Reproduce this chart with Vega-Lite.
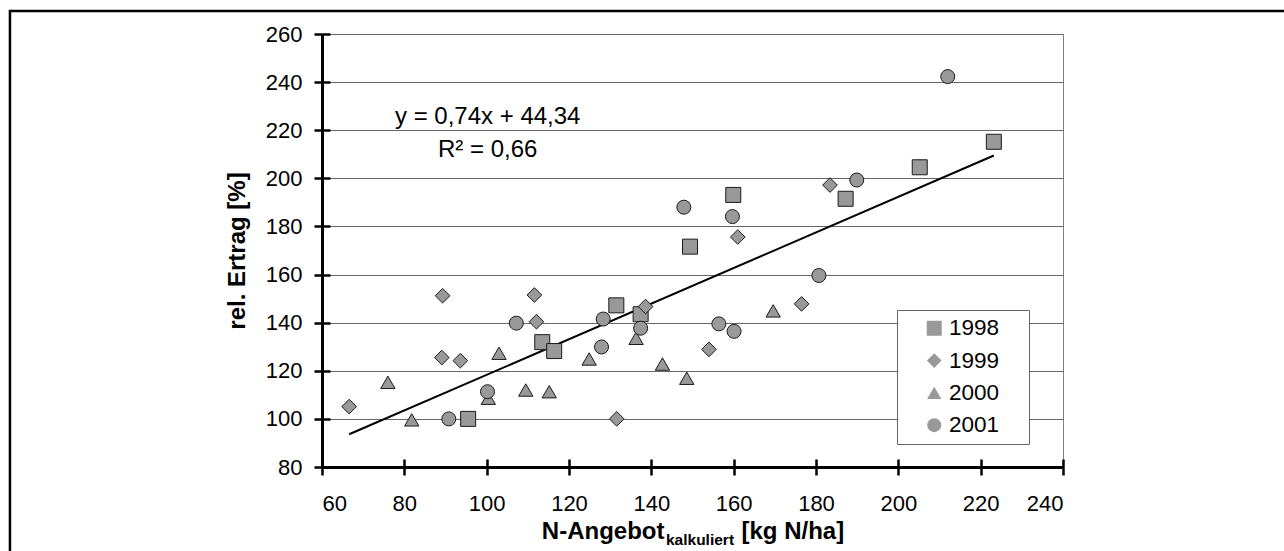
{
  "$schema": "https://vega.github.io/schema/vega-lite/v6.json",
  "width": 741,
  "height": 433,
  "autosize": "none",
  "padding": {"left": 322, "top": 34, "right": 221, "bottom": 84},
  "background": "white",
  "config": {
    "font": "Liberation Sans",
    "view": {"stroke": "#808080", "strokeWidth": 1},
    "axis": {"labelFont": "Liberation Sans", "titleFont": "Liberation Sans", "labelColor": "black", "titleColor": "black"}
  },
  "datasets": {
    "pts": [
      {"year": "1998", "x": 95.5, "y": 100},
      {"year": "1998", "x": 113.5, "y": 131.9},
      {"year": "1998", "x": 116.4, "y": 128.2},
      {"year": "1998", "x": 131.5, "y": 147.2},
      {"year": "1998", "x": 137.4, "y": 143.5},
      {"year": "1998", "x": 149.4, "y": 171.6},
      {"year": "1998", "x": 159.9, "y": 193.1},
      {"year": "1998", "x": 187.2, "y": 191.5},
      {"year": "1998", "x": 205.2, "y": 204.6},
      {"year": "1998", "x": 223.2, "y": 215.2},
      {"year": "1999", "x": 66.6, "y": 105.1},
      {"year": "1999", "x": 89.3, "y": 151.2},
      {"year": "1999", "x": 89.1, "y": 125.5},
      {"year": "1999", "x": 93.6, "y": 124.2},
      {"year": "1999", "x": 111.6, "y": 151.5},
      {"year": "1999", "x": 112.1, "y": 140.4},
      {"year": "1999", "x": 131.6, "y": 100},
      {"year": "1999", "x": 138.6, "y": 146.7},
      {"year": "1999", "x": 154.0, "y": 128.9},
      {"year": "1999", "x": 161.0, "y": 175.6},
      {"year": "1999", "x": 176.5, "y": 147.8},
      {"year": "1999", "x": 183.4, "y": 197.2},
      {"year": "2000", "x": 76.0, "y": 115.2},
      {"year": "2000", "x": 81.8, "y": 99.6},
      {"year": "2000", "x": 100.4, "y": 108.6},
      {"year": "2000", "x": 103.0, "y": 127.3},
      {"year": "2000", "x": 109.5, "y": 112.0},
      {"year": "2000", "x": 115.2, "y": 111.3},
      {"year": "2000", "x": 124.9, "y": 124.9},
      {"year": "2000", "x": 136.3, "y": 133.5},
      {"year": "2000", "x": 142.7, "y": 122.8},
      {"year": "2000", "x": 148.6, "y": 116.9},
      {"year": "2000", "x": 169.6, "y": 144.9},
      {"year": "2001", "x": 90.8, "y": 100},
      {"year": "2001", "x": 100.2, "y": 111.3},
      {"year": "2001", "x": 107.2, "y": 139.8},
      {"year": "2001", "x": 127.9, "y": 129.9},
      {"year": "2001", "x": 128.3, "y": 141.5},
      {"year": "2001", "x": 137.4, "y": 137.7},
      {"year": "2001", "x": 147.9, "y": 188.0},
      {"year": "2001", "x": 156.4, "y": 139.5},
      {"year": "2001", "x": 159.7, "y": 184.1},
      {"year": "2001", "x": 160.1, "y": 136.4},
      {"year": "2001", "x": 180.7, "y": 159.6},
      {"year": "2001", "x": 189.9, "y": 199.3},
      {"year": "2001", "x": 212.0, "y": 242.3}
    ],
    "trend": [
      {"x": 66.6, "y": 93.6},
      {"x": 223.2, "y": 209.5}
    ],
    "one": [{}]
  },
  "resolve": {"axis": {"x": "independent", "y": "independent"}},
  "layer": [
    {
      "data": {"name": "one"},
      "mark": {"type": "rect", "fill": null, "filled": false, "stroke": "black", "strokeWidth": 2.5, "clip": false},
      "encoding": {
        "x": {"datum": -15.8, "type": "quantitative", "scale": {"domain": [60, 240], "nice": false, "zero": false}, "axis": null},
        "x2": {"datum": 300},
        "y": {"datum": 269.6, "type": "quantitative", "scale": {"domain": [80, 260], "nice": false, "zero": false}, "axis": null},
        "y2": {"datum": 30}
      }
    },
    {
      "data": {"name": "trend"},
      "mark": {"type": "line", "color": "black", "strokeWidth": 2},
      "encoding": {
        "x": {"field": "x", "type": "quantitative", "scale": {"domain": [60, 240], "nice": false, "zero": false},
          "axis": {"orient": "bottom", "offset": -8, "values": [60, 80, 100, 120, 140, 160, 180, 200, 220, 240], "ticks": true, "tickSize": 8, "tickWidth": 2.5, "tickColor": "black", "labels": false, "domain": false, "grid": false, "title": null}},
        "y": {"field": "y", "type": "quantitative", "scale": {"domain": [80, 260], "nice": false, "zero": false},
          "axis": {"orient": "left", "offset": -8, "values": [80, 100, 120, 140, 160, 180, 200, 220, 240, 260], "ticks": true, "tickSize": 8, "tickWidth": 2.5, "tickColor": "black", "labels": false, "domain": false, "grid": false, "title": null}}
      }
    },
    {
      "data": {"name": "pts"},
      "mark": {"type": "point", "filled": true, "fill": "#999999", "stroke": "#1a1a1a", "strokeWidth": 1, "opacity": 1},
      "encoding": {
        "x": {"field": "x", "type": "quantitative", "scale": {"domain": [60, 240], "nice": false, "zero": false},
          "axis": {"orient": "bottom", "values": [60, 80, 100, 120, 140, 160, 180, 200, 220, 240], "tickSize": 8, "tickWidth": 2.5, "tickColor": "black", "domainColor": "black", "domainWidth": 3, "labelFontSize": 22, "labelPadding": 18, "grid": false, "title": null}},
        "y": {"field": "y", "type": "quantitative", "scale": {"domain": [80, 260], "nice": false, "zero": false},
          "axis": {"orient": "left", "values": [80, 100, 120, 140, 160, 180, 200, 220, 240, 260], "tickSize": 8, "tickWidth": 2.5, "tickColor": "black", "domainColor": "black", "domainWidth": 3, "labelFontSize": 22, "labelPadding": 12, "grid": true, "gridColor": "#666666", "gridWidth": 1, "title": "rel. Ertrag [%]", "titleFontSize": 24, "titleFontWeight": "bold", "titlePadding": 16}},
        "shape": {"field": "year", "type": "nominal",
          "scale": {"domain": ["1998", "1999", "2000", "2001"], "range": ["square", "diamond", "triangle-up", "circle"]},
          "legend": {"orient": "none", "legendX": 575, "legendY": 276, "padding": 7, "symbolOffset": 19, "labelOffset": 3.5, "rowPadding": 9.3, "fillColor": "white", "strokeColor": "#666666", "labelFontSize": 22.5, "labelFont": "Liberation Sans", "labelColor": "black", "symbolFillColor": "#999999", "symbolStrokeColor": "#1a1a1a", "symbolStrokeWidth": 1, "symbolOpacity": 1, "title": "MM", "titleOrient": "right", "titleFontSize": 11, "titleColor": "transparent", "titlePadding": 4}},
        "size": {"field": "year", "type": "nominal",
          "scale": {"domain": ["1998", "1999", "2000", "2001"], "range": [225, 196, 290, 225]},
          "legend": {"orient": "none", "legendX": 575, "legendY": 276, "padding": 7, "symbolOffset": 19, "labelOffset": 3.5, "rowPadding": 9.3, "fillColor": "white", "strokeColor": "#666666", "labelFontSize": 22.5, "labelFont": "Liberation Sans", "labelColor": "black", "symbolFillColor": "#999999", "symbolStrokeColor": "#1a1a1a", "symbolStrokeWidth": 1, "symbolOpacity": 1, "title": "MM", "titleOrient": "right", "titleFontSize": 11, "titleColor": "transparent", "titlePadding": 4}}
      }
    },
    {
      "data": {"name": "one"},
      "mark": {"type": "text", "text": ["y = 0,74x + 44,34", "R² = 0,66"], "align": "center", "baseline": "alphabetic", "fontSize": 24, "lineHeight": 33, "color": "black", "font": "Liberation Sans"},
      "encoding": {
        "x": {"datum": 100.25, "type": "quantitative", "scale": {"domain": [60, 240], "nice": false, "zero": false}, "axis": null},
        "y": {"datum": 222.6, "type": "quantitative", "scale": {"domain": [80, 260], "nice": false, "zero": false}, "axis": null}
      }
    },
    {
      "data": {"name": "one"},
      "mark": {"type": "text", "text": "N-Angebot", "align": "right", "baseline": "alphabetic", "fontSize": 24, "fontWeight": "bold", "color": "black", "font": "Liberation Sans", "clip": false},
      "encoding": {
        "x": {"datum": 143.2, "type": "quantitative", "scale": {"domain": [60, 240], "nice": false, "zero": false}, "axis": null},
        "y": {"datum": 50.1, "type": "quantitative", "scale": {"domain": [80, 260], "nice": false, "zero": false}, "axis": null}
      }
    },
    {
      "data": {"name": "one"},
      "mark": {"type": "text", "text": "kalkuliert", "align": "left", "baseline": "alphabetic", "fontSize": 15.5, "fontWeight": "bold", "color": "black", "font": "Liberation Sans", "clip": false},
      "encoding": {
        "x": {"datum": 143.56, "type": "quantitative", "scale": {"domain": [60, 240], "nice": false, "zero": false}, "axis": null},
        "y": {"datum": 47.6, "type": "quantitative", "scale": {"domain": [80, 260], "nice": false, "zero": false}, "axis": null}
      }
    },
    {
      "data": {"name": "one"},
      "mark": {"type": "text", "text": "[kg N/ha]", "align": "left", "baseline": "alphabetic", "fontSize": 24, "fontWeight": "bold", "color": "black", "font": "Liberation Sans", "clip": false},
      "encoding": {
        "x": {"datum": 161.9, "type": "quantitative", "scale": {"domain": [60, 240], "nice": false, "zero": false}, "axis": null},
        "y": {"datum": 50.1, "type": "quantitative", "scale": {"domain": [80, 260], "nice": false, "zero": false}, "axis": null}
      }
    }
  ]
}
